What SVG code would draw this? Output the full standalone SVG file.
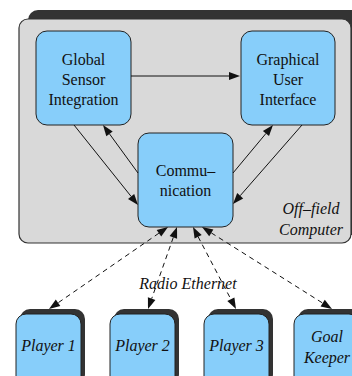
<svg xmlns="http://www.w3.org/2000/svg" width="352" height="376" viewBox="0 0 352 376">
<style>
.node{fill:#87cefa;stroke:#222;stroke-width:1}
.shadow{fill:#333}
.c{stroke:#111;stroke-width:1;fill:none}
.d{stroke:#111;stroke-width:1;fill:none;stroke-dasharray:5,4}
.h{fill:#111}
</style>
<rect width="352" height="376" fill="#fff"/>
<g id="offfield">
<rect class="shadow" x="28" y="10" width="340" height="225" rx="10"/>
<rect x="19" y="19" width="332" height="224" rx="9" fill="#d9d9d9" stroke="#333" stroke-width="1.2"/>
<text x="311" y="214" font-family="Liberation Serif" font-size="16" font-style="italic" text-anchor="middle" fill="#111">Off–field</text>
<text x="311" y="235" font-family="Liberation Serif" font-size="16" font-style="italic" text-anchor="middle" fill="#111">Computer</text>
</g>
<g id="gsi">
<rect class="node" x="36" y="31" width="95" height="94" rx="11"/>
<text x="83.5" y="65" font-family="Liberation Serif" font-size="16" text-anchor="middle" fill="#111">Global</text>
<text x="83.5" y="85" font-family="Liberation Serif" font-size="16" text-anchor="middle" fill="#111">Sensor</text>
<text x="83.5" y="105" font-family="Liberation Serif" font-size="16" text-anchor="middle" fill="#111">Integration</text>
</g>
<g id="gui">
<rect class="node" x="241" y="31" width="94" height="94" rx="11"/>
<text x="288" y="65" font-family="Liberation Serif" font-size="16" text-anchor="middle" fill="#111">Graphical</text>
<text x="288" y="85" font-family="Liberation Serif" font-size="16" text-anchor="middle" fill="#111">User</text>
<text x="288" y="105" font-family="Liberation Serif" font-size="16" text-anchor="middle" fill="#111">Interface</text>
</g>
<g id="comm">
<rect class="node" x="138" y="133" width="95" height="94" rx="11"/>
<text x="185.5" y="176" font-family="Liberation Serif" font-size="16" text-anchor="middle" fill="#111">Commu–</text>
<text x="185.5" y="196" font-family="Liberation Serif" font-size="16" text-anchor="middle" fill="#111">nication</text>
</g>
<g id="player1">
<rect class="shadow" x="20" y="309" width="65" height="75" rx="10"/>
<rect class="node" x="16" y="314" width="65" height="75" rx="10"/>
<text x="48.5" y="351" font-family="Liberation Serif" font-size="16" font-style="italic" text-anchor="middle" fill="#111">Player 1</text>
</g>
<g id="player2">
<rect class="shadow" x="114" y="309" width="65" height="75" rx="10"/>
<rect class="node" x="110" y="314" width="65" height="75" rx="10"/>
<text x="142.5" y="351" font-family="Liberation Serif" font-size="16" font-style="italic" text-anchor="middle" fill="#111">Player 2</text>
</g>
<g id="player3">
<rect class="shadow" x="208" y="309" width="65" height="75" rx="10"/>
<rect class="node" x="204" y="314" width="65" height="75" rx="10"/>
<text x="236.5" y="351" font-family="Liberation Serif" font-size="16" font-style="italic" text-anchor="middle" fill="#111">Player 3</text>
</g>
<g id="goalkeeper">
<rect class="shadow" x="298" y="309" width="65" height="75" rx="10"/>
<rect class="node" x="294" y="314" width="65" height="75" rx="10"/>
<text x="327" y="342" font-family="Liberation Serif" font-size="16" font-style="italic" text-anchor="middle" fill="#111">Goal</text>
<text x="327" y="363" font-family="Liberation Serif" font-size="16" font-style="italic" text-anchor="middle" fill="#111">Keeper</text>
</g>
<g id="connectors">
<line class="c" x1="131" y1="76" x2="229" y2="76"/>
<polygon class="h" points="240,76 229,72 229,80"/>
<line class="c" x1="74" y1="125" x2="131.1" y2="196.4"/>
<polygon class="h" points="138,205 128,198.9 134.2,193.9"/>
<line class="c" x1="138" y1="173" x2="109.5" y2="133.9"/>
<polygon class="h" points="103,125 112.7,131.5 106.3,136.3"/>
<line class="c" x1="233" y1="173" x2="266" y2="133.4"/>
<polygon class="h" points="273,125 269,136 262.9,130.9"/>
<line class="c" x1="302" y1="125" x2="240.2" y2="195.7"/>
<polygon class="h" points="233,204 237.2,193.1 243.2,198.4"/>
<line class="d" x1="158.9" y1="233.2" x2="58.1" y2="302.8"/>
<polygon class="h" points="168,227 156.7,229.9 161.2,236.5"/>
<polygon class="h" points="49,309 55.8,299.5 60.3,306"/>
<line class="d" x1="173.3" y1="237.4" x2="151.7" y2="298.6"/>
<polygon class="h" points="177,227 169.6,236 177.1,238.7"/>
<polygon class="h" points="148,309 147.9,297.3 155.4,300"/>
<line class="d" x1="198.1" y1="236.7" x2="230.9" y2="299.3"/>
<polygon class="h" points="193,227 194.6,238.6 201.7,234.9"/>
<polygon class="h" points="236,309 227.3,301.1 234.4,297.4"/>
<line class="d" x1="211.3" y1="232.9" x2="322.7" y2="303.1"/>
<polygon class="h" points="202,227 209.2,236.3 213.4,229.5"/>
<polygon class="h" points="332,309 320.6,306.5 324.8,299.8"/>
</g>
<text x="188" y="289" font-family="Liberation Serif" font-size="16" font-style="italic" text-anchor="middle" fill="#111">Radio Ethernet</text>
</svg>
